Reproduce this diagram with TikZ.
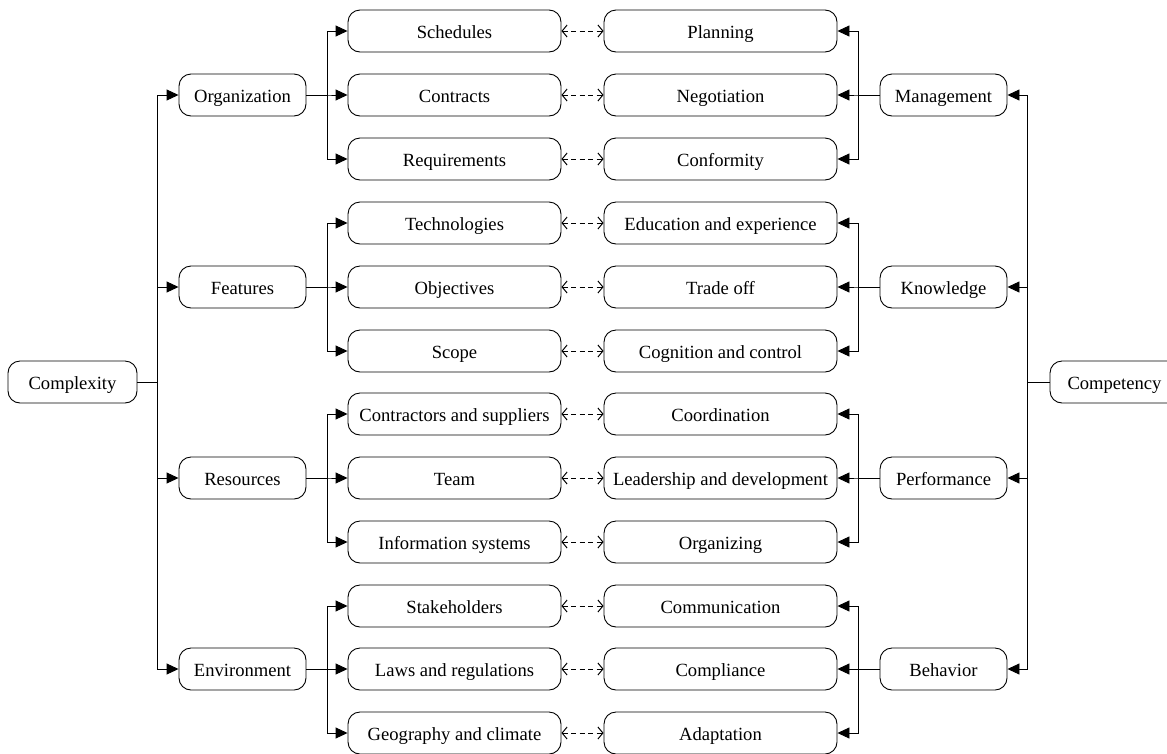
\documentclass[tikz,border=0pt]{standalone}
\usepackage{fontspec}
\setmainfont{Liberation Serif}
\usetikzlibrary{arrows.meta}
\tikzset{
  box/.style={draw, rounded corners=12pt, minimum height=42pt, inner sep=0pt,
    text height=16pt, text depth=2pt,
    line width=0.9pt, font=\fontsize{18.6}{22}\selectfont, text=black},
  lbox/.style={box, minimum width=213pt},
  rbox/.style={box, minimum width=233pt},
  mbox/.style={box, minimum width=127pt},
  tbox/.style={box, minimum width=129pt},
  arr/.style={line width=0.9pt, -{Triangle[length=12pt,width=11pt]}},
  darr/.style={line width=1pt, dash pattern=on 5pt off 3.5pt,
    {Straight Barb[length=5pt,width=12pt]}-{Straight Barb[length=5pt,width=12pt]}}
}
\begin{document}
\begin{tikzpicture}[x=1pt,y=-1pt]
\useasboundingbox (0,0) rectangle (1167,753);
% top level
\node[tbox] (cx) at (72.5,382) {Complexity};
\node[tbox] (cp) at (1114.5,382) {Competency};
% left level 1
\node[mbox] (org) at (242.5,95) {Organization};
\node[mbox] (fea) at (242.5,287) {Features};
\node[mbox] (res) at (242.5,478) {Resources};
\node[mbox] (env) at (242.5,669) {Environment};
% right level 1
\node[mbox] (man) at (943.5,95) {Management};
\node[mbox] (kno) at (943.5,287) {Knowledge};
\node[mbox] (per) at (943.5,478) {Performance};
\node[mbox] (beh) at (943.5,669) {Behavior};
% left level 2
\node[lbox] (l1) at (454.5,31) {Schedules};
\node[lbox] (l2) at (454.5,95) {Contracts};
\node[lbox] (l3) at (454.5,159) {Requirements};
\node[lbox] (l4) at (454.5,223) {Technologies};
\node[lbox] (l5) at (454.5,287) {Objectives};
\node[lbox] (l6) at (454.5,351) {Scope};
\node[lbox] (l7) at (454.5,414) {Contractors and suppliers};
\node[lbox] (l8) at (454.5,478) {Team};
\node[lbox] (l9) at (454.5,542) {Information systems};
\node[lbox] (l10) at (454.5,606) {Stakeholders};
\node[lbox] (l11) at (454.5,669) {Laws and regulations};
\node[lbox] (l12) at (454.5,733) {Geography and climate};
% right level 2
\node[rbox] (r1) at (720.5,31) {Planning};
\node[rbox] (r2) at (720.5,95) {Negotiation};
\node[rbox] (r3) at (720.5,159) {Conformity};
\node[rbox] (r4) at (720.5,223) {Education and experience};
\node[rbox] (r5) at (720.5,287) {Trade off};
\node[rbox] (r6) at (720.5,351) {Cognition and control};
\node[rbox] (r7) at (720.5,414) {Coordination};
\node[rbox] (r8) at (720.5,478) {Leadership and development};
\node[rbox] (r9) at (720.5,542) {Organizing};
\node[rbox] (r10) at (720.5,606) {Communication};
\node[rbox] (r11) at (720.5,669) {Compliance};
\node[rbox] (r12) at (720.5,733) {Adaptation};
% complexity tree
\foreach \t in {org,fea,res,env}
  \draw[arr] (cx.east) -- ++(20,0) |- (\t.west);
\foreach \t in {man,kno,per,beh}
  \draw[arr] (cp.west) -- ++(-22,0) |- (\t.east);
\foreach \t in {l1,l2,l3} \draw[arr] (org.east) -- ++(21,0) |- (\t.west);
\foreach \t in {l4,l5,l6} \draw[arr] (fea.east) -- ++(21,0) |- (\t.west);
\foreach \t in {l7,l8,l9} \draw[arr] (res.east) -- ++(21,0) |- (\t.west);
\foreach \t in {l10,l11,l12} \draw[arr] (env.east) -- ++(21,0) |- (\t.west);
\foreach \t in {r1,r2,r3} \draw[arr] (man.west) -- ++(-21,0) |- (\t.east);
\foreach \t in {r4,r5,r6} \draw[arr] (kno.west) -- ++(-21,0) |- (\t.east);
\foreach \t in {r7,r8,r9} \draw[arr] (per.west) -- ++(-21,0) |- (\t.east);
\foreach \t in {r10,r11,r12} \draw[arr] (beh.west) -- ++(-21,0) |- (\t.east);
\foreach \i in {1,...,12} \draw[darr] (l\i.east) -- (r\i.west);
\end{tikzpicture}
\end{document}
